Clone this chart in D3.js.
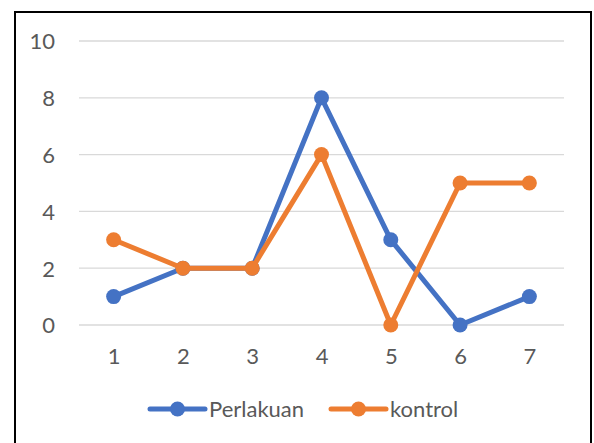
<!DOCTYPE html>
<html><head><meta charset="utf-8">
<script src="https://cdn.jsdelivr.net/npm/d3@7"></script>
<style>body{margin:0;background:#fff}svg{display:block}</style>
</head><body>
<svg id="c" width="594" height="443"></svg>
<script>
const categories = ["1","2","3","4","5","6","7"];
const perlakuan = [1,2,2,8,3,0,1];
const kontrol = [3,2,2,6,0,5,5];
const yTicks = [0,2,4,6,8,10];
const seriesNames = ["Perlakuan","kontrol"];
const colors = ["#4472C4","#ED7D31"];

const svg = d3.select("#c");
const font = "Lato, 'Open Sans', sans-serif";
const fs = 22;
svg.append("rect").attr("x",15).attr("y",12).attr("width",576).attr("height",440)
  .attr("fill","#fff").attr("stroke","#000").attr("stroke-width",2);

const x = d3.scalePoint().domain(categories).range([79,564]).padding(0.5);
const y = d3.scaleLinear().domain([0,10]).range([325,41]);

const g = svg.append("g");
g.selectAll("line.grid").data(yTicks).join("line")
  .attr("x1",79).attr("x2",564).attr("y1",d=>y(d)).attr("y2",d=>y(d))
  .attr("stroke","#d9d9d9").attr("stroke-width",1.3);

const yAxis = d3.axisLeft(y).tickValues(yTicks).tickSize(0).tickPadding(0);
const ya = svg.append("g").attr("transform","translate(55,0)").call(yAxis);
ya.select(".domain").remove();
ya.selectAll("text").attr("font-family",font).attr("font-size",fs).attr("fill","#595959").attr("dy","0.36em");

const xAxis = d3.axisBottom(x).tickSize(0).tickPadding(0);
const xa = svg.append("g").attr("transform","translate(0,348)").call(xAxis);
xa.select(".domain").remove();
xa.selectAll("text").attr("font-family",font).attr("font-size",fs).attr("fill","#595959");

const data = [perlakuan, kontrol];
const line = d3.line().x((d,i)=>x(categories[i])).y(d=>y(d));
data.forEach((s,k)=>{
  svg.append("path").datum(s).attr("d",line).attr("fill","none")
    .attr("stroke",colors[k]).attr("stroke-width",5).attr("stroke-linejoin","round");
  svg.selectAll(null).data(s).join("circle")
    .attr("cx",(d,i)=>x(categories[i])).attr("cy",d=>y(d)).attr("r",7.5)
    .attr("fill",colors[k]);
});

// legend
const legX = [150, 331];
seriesNames.forEach((n,k)=>{
  const lg = svg.append("g").attr("transform",`translate(${legX[k]},409)`);
  lg.append("line").attr("x1",0).attr("x2",55).attr("stroke",colors[k]).attr("stroke-width",5).attr("stroke-linecap","round");
  lg.append("circle").attr("cx",27.5).attr("r",7.5).attr("fill",colors[k]);
  lg.append("text").attr("x",59).attr("y",0).attr("dy","0.36em").text(n)
    .attr("font-family",font).attr("font-size",fs).attr("fill","#595959");
});
</script>
</body></html>
